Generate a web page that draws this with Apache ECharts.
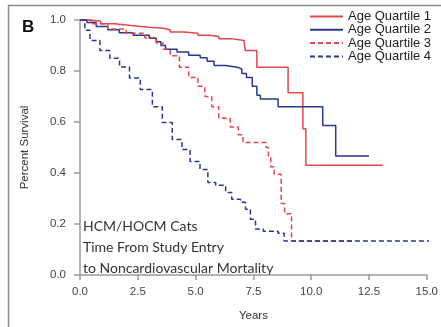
<!DOCTYPE html>
<html>
<head>
<meta charset="utf-8">
<script src="https://cdn.jsdelivr.net/npm/echarts@6/dist/echarts.min.js"></script>
<style>
  html, body { margin: 0; padding: 0; background: #fff; }
  #chart { width: 441px; height: 327px; }
</style>
</head>
<body>
<div id="chart"></div>
<script>
// Kaplan-Meier curves, [years, survival]
const quartile1 = [[0, 1], [0.4, 0.995], [0.9, 0.985], [1.5, 0.978], [2.2, 0.972], [3.0, 0.968], [3.6, 0.962], [3.9, 0.953],
  [4.5, 0.948], [5.1, 0.94], [5.6, 0.935], [6.0, 0.926], [6.6, 0.92], [7.1, 0.912], [7.15, 0.88], [7.65, 0.815],
  [9.0, 0.715], [9.64, 0.574], [9.77, 0.43], [13.1, 0.43]]
const quartile2 = [[0, 1], [0.3, 0.99], [0.7, 0.975], [1.2, 0.962], [1.7, 0.95], [2.3, 0.94], [3.0, 0.928], [3.3, 0.915],
  [3.5, 0.9], [3.7, 0.885], [4.2, 0.875], [4.7, 0.862], [5.2, 0.852], [5.5, 0.838], [5.8, 0.822], [6.3, 0.815],
  [6.8, 0.808], [7.0, 0.79], [7.2, 0.775], [7.45, 0.74], [7.65, 0.705], [7.8, 0.69], [8.57, 0.66], [10.5, 0.586],
  [11.06, 0.467], [12.5, 0.467]]
const quartile3 = [[0, 1], [0.5, 0.985], [1.2, 0.965], [2.0, 0.948], [2.8, 0.93], [3.3, 0.91], [3.6, 0.885], [3.9, 0.86],
  [4.3, 0.815], [4.7, 0.775], [5.1, 0.74], [5.4, 0.7], [5.7, 0.66], [6.0, 0.615], [6.5, 0.58], [6.85, 0.55],
  [7.05, 0.52], [8.05, 0.5], [8.15, 0.46], [8.25, 0.425], [8.4, 0.395], [8.7, 0.28], [8.85, 0.24], [9.15, 0.133],
  [11.9, 0.133]]
const quartile4 = [[0, 1], [0.21, 0.96], [0.43, 0.92], [0.86, 0.88], [1.29, 0.85], [1.71, 0.816], [2.14, 0.773],
  [2.61, 0.727], [3.13, 0.66], [3.56, 0.598], [3.99, 0.531], [4.41, 0.492], [4.76, 0.445], [5.19, 0.414],
  [5.53, 0.363], [5.87, 0.352], [6.3, 0.324], [6.56, 0.297], [6.94, 0.285], [7.16, 0.258], [7.37, 0.219],
  [7.59, 0.18], [7.93, 0.172], [8.57, 0.164], [8.83, 0.133], [15.25, 0.133]]
const seriesNames = ['Age Quartile 1', 'Age Quartile 2', 'Age Quartile 3', 'Age Quartile 4']
const noteLines = ['HCM/HOCM Cats', 'Time From Study Entry', 'to Noncardiovascular Mortality']

const red = '#e0484e'
const blue = '#2b378a'
const axisGray = '#9a9a9a'

function kmSeries(name, data, color, dashed) {
  return {
    name: name,
    type: 'line',
    step: 'end',
    data: data,
    symbol: 'none',
    clip: false,
    lineStyle: { color: color, width: 1.5, type: dashed ? [5, 3] : 'solid' },
    itemStyle: { color: color },
    emphasis: { disabled: true }
  }
}

const myChart = echarts.init(document.getElementById('chart'))
const option = {
  animation: false,
  textStyle: { fontFamily: 'Liberation Sans, Arial, sans-serif' },
  grid: { left: 80, right: 11, top: 20, bottom: 51 },
  legend: {
    show: true,
    orient: 'vertical',
    left: 309,
    top: 10,
    padding: 0,
    itemWidth: 33,
    itemHeight: 12,
    itemGap: 0.3,
    itemStyle: { opacity: 0 },
    textStyle: { fontSize: 13, color: '#222', lineHeight: 12 },
    data: seriesNames
  },
  xAxis: {
    type: 'value',
    min: 0,
    max: 15,
    interval: 2.5,
    offset: 3,
    name: 'Years',
    nameLocation: 'middle',
    nameGap: 32,
    nameTextStyle: { fontSize: 11.5, color: '#333' },
    axisLine: { show: true, lineStyle: { color: axisGray, width: 1.5 } },
    axisTick: { show: true, length: 5, lineStyle: { color: axisGray, width: 1.5 } },
    axisLabel: { fontSize: 11.5, color: '#444', margin: 8, formatter: v => v.toFixed(1) },
    splitLine: { show: false }
  },
  yAxis: {
    type: 'value',
    min: 0,
    max: 1,
    interval: 0.2,
    offset: 2,
    name: 'Percent Survival',
    nameLocation: 'middle',
    nameGap: 47,
    nameTextStyle: { fontSize: 11.5, color: '#333' },
    axisLine: { show: true, lineStyle: { color: axisGray, width: 1.5 } },
    axisTick: { show: true, length: 6, lineStyle: { color: axisGray, width: 1.5 } },
    axisLabel: { fontSize: 11.5, color: '#444', margin: 12, formatter: v => v.toFixed(1) },
    splitLine: { show: false }
  },
  graphic: [
    {
      type: 'rect',
      shape: { x: 8.5, y: 5.5, width: 440, height: 330 },
      style: { fill: 'none', stroke: '#8a8a8a', lineWidth: 1.5 },
      silent: true
    },
    {
      type: 'text',
      left: 22,
      top: 19,
      style: { text: 'B', font: 'bold 17px Liberation Sans, Arial, sans-serif', fill: '#111' }
    },
    {
      type: 'text',
      left: 83,
      top: 216,
      style: {
        text: noteLines.join('\n'),
        font: '14px Lato, Open Sans, sans-serif',
        lineHeight: 21,
        fill: '#333'
      }
    }
  ],
  series: [
    kmSeries(seriesNames[0], quartile1, red, false),
    kmSeries(seriesNames[1], quartile2, blue, false),
    kmSeries(seriesNames[2], quartile3, red, true),
    kmSeries(seriesNames[3], quartile4, blue, true)
  ]
}
myChart.setOption(option)
</script>
</body>
</html>
